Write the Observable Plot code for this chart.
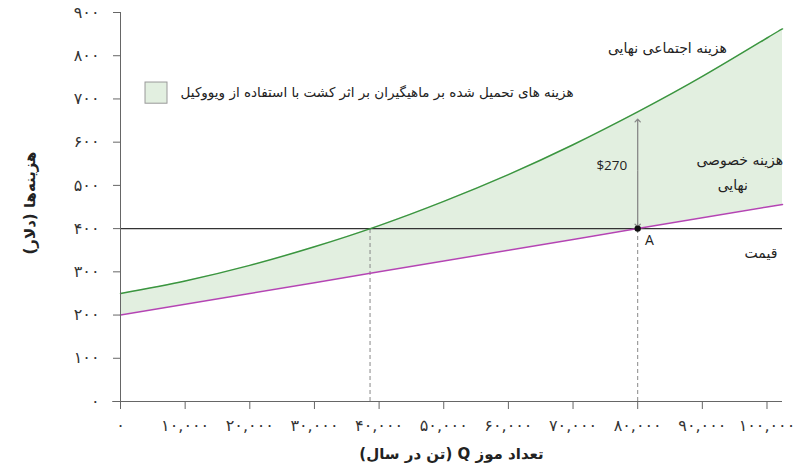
<!DOCTYPE html>
<html><head><meta charset="utf-8">
<script src="https://cdn.jsdelivr.net/npm/d3@7"></script>
<script src="https://cdn.jsdelivr.net/npm/@observablehq/plot@0.6"></script>
<style>body{margin:0;background:#fff}</style>
</head><body><div id="chart"></div>
<script>
// Data
const quantity    = [0, 10000, 20000, 30000, 40000, 50000, 60000, 70000, 80000, 90000, 100000, 102400];
const socialCost  = [250, 279, 315, 358, 407, 463, 525, 594, 670, 752, 841, 862];
const privateCost = [200, 225, 250, 275, 300, 325, 350, 375, 400, 425, 450, 456];
const price = 400;
const eqSocial = 38600;   // where social cost meets price
const eqPrivate = 80000;  // point A
const gap = 270;

const xTicks = [0, 10000, 20000, 30000, 40000, 50000, 60000, 70000, 80000, 90000, 100000];
const xTickLabels = ["۰","۱۰,۰۰۰","۲۰,۰۰۰","۳۰,۰۰۰","۴۰,۰۰۰","۵۰,۰۰۰","۶۰,۰۰۰","۷۰,۰۰۰","۸۰,۰۰۰","۹۰,۰۰۰","۱۰۰,۰۰۰"];
const yTicks = [0, 100, 200, 300, 400, 500, 600, 700, 800, 900];
const yTickLabels = ["۰","۱۰۰","۲۰۰","۳۰۰","۴۰۰","۵۰۰","۶۰۰","۷۰۰","۸۰۰","۹۰۰"];

const labelSocial = "هزینه اجتماعی نهایی";
const labelPrivate1 = "هزینه خصوصی";
const labelPrivate2 = "نهایی";
const labelPrice = "قیمت";
const labelLegend = "هزینه های تحمیل شده بر ماهیگیران بر اثر کشت با استفاده از ویووکیل";
const xTitle = "تعداد موز Q (تن در سال)";
const yTitle = "هزینه‌ها (دلار)";

const rtl = s => "\u202B" + s + "\u202C";
const rows = quantity.map((q, i) => ({q, social: socialCost[i], priv: privateCost[i]}));
const xFmt = new Map(xTicks.map((t, i) => [t, xTickLabels[i]]));
const yFmt = new Map(yTicks.map((t, i) => [t, yTickLabels[i]]));

const green = "#3a953f", purple = "#b445b3", fillGreen = "#e2efe0";
const font = "'DejaVu Sans', sans-serif";
const arrowMid = price + gap / 2;

const chart = Plot.plot({
  width: 810, height: 473,
  marginLeft: 120, marginRight: 28, marginTop: 12, marginBottom: 72,
  style: {fontFamily: font, fontSize: "11px", color: "#333", background: "#fff"},
  x: {domain: [0, 102400]},
  y: {domain: [0, 900]},
  marks: [
    Plot.areaY(rows, {x: "q", y1: "priv", y2: "social", fill: fillGreen, curve: "natural"}),
    Plot.ruleX([eqSocial, eqPrivate], {y1: 0, y2: price, stroke: "#888", strokeDasharray: "4,3", strokeWidth: 1}),
    Plot.ruleY([price], {stroke: "#333", strokeWidth: 1.2}),
    Plot.line(rows, {x: "q", y: "social", stroke: green, strokeWidth: 1.5, curve: "natural"}),
    Plot.line(rows, {x: "q", y: "priv", stroke: purple, strokeWidth: 1.5}),
    Plot.link([{y1: arrowMid, y2: price + gap - 20}, {y1: arrowMid, y2: price + 7}], {x1: () => eqPrivate, x2: () => eqPrivate, y1: "y1", y2: "y2", stroke: "#888", strokeWidth: 1.3, markerEnd: "arrow"}),
    Plot.dot([{x: eqPrivate, y: price}], {x: "x", y: "y", r: 3.2, fill: "#111"}),
    Plot.ruleY([0], {stroke: "#666", x1: -1200, x2: 102400}),
    Plot.ruleX([0], {stroke: "#666"}),
    Plot.axisX({ticks: xTicks, tickFormat: d => xFmt.get(d), tickSize: 8, tickPadding: 10, stroke: "#666", fontSize: 16, fill: "#333", label: null}),
    Plot.axisY({ticks: yTicks, tickFormat: d => yFmt.get(d), tickSize: 7, tickPadding: 14, stroke: "#666", fontSize: 16, fill: "#333", label: null}),
    Plot.text([rtl(xTitle)], {frameAnchor: "bottom", dy: 57, fontSize: 15, fontWeight: "bold", fill: "#222"}),
    Plot.text([rtl(yTitle)], {frameAnchor: "left", textAnchor: "middle", dx: -90, dy: -4, rotate: -90, fontSize: 15, fontWeight: "bold", fill: "#222"}),
    Plot.text([rtl(labelSocial)], {x: 84600, y: 817, fontSize: 14, fill: "#222"}),
    Plot.text([rtl(labelPrivate1)], {x: 95800, y: 557, fontSize: 14, fill: "#222"}),
    Plot.text([rtl(labelPrivate2)], {x: 94700, y: 500, fontSize: 14, fill: "#222"}),
    Plot.text([rtl(labelPrice)], {x: 101600, y: 343, textAnchor: "end", fontSize: 14, fill: "#222"}),
    Plot.text(["A"], {x: 81800, y: 372, fontSize: 14, fill: "#222", fontFamily: "'Open Sans', sans-serif"}),
    Plot.text(["$270"], {x: 76000, y: 546, fontSize: 13.5, fill: "#222", fontFamily: "'Open Sans', sans-serif"}),
    Plot.rect([{x1: 3870, x2: 7270, y1: 689, y2: 738}], {x1: "x1", x2: "x2", y1: "y1", y2: "y2", fill: fillGreen, stroke: "#999"}),
    Plot.text([rtl(labelLegend)], {x: 9300, y: 714, textAnchor: "start", fontSize: 13.5, fill: "#222"})
  ]
});
document.getElementById("chart").appendChild(chart);
</script>
</body></html>
